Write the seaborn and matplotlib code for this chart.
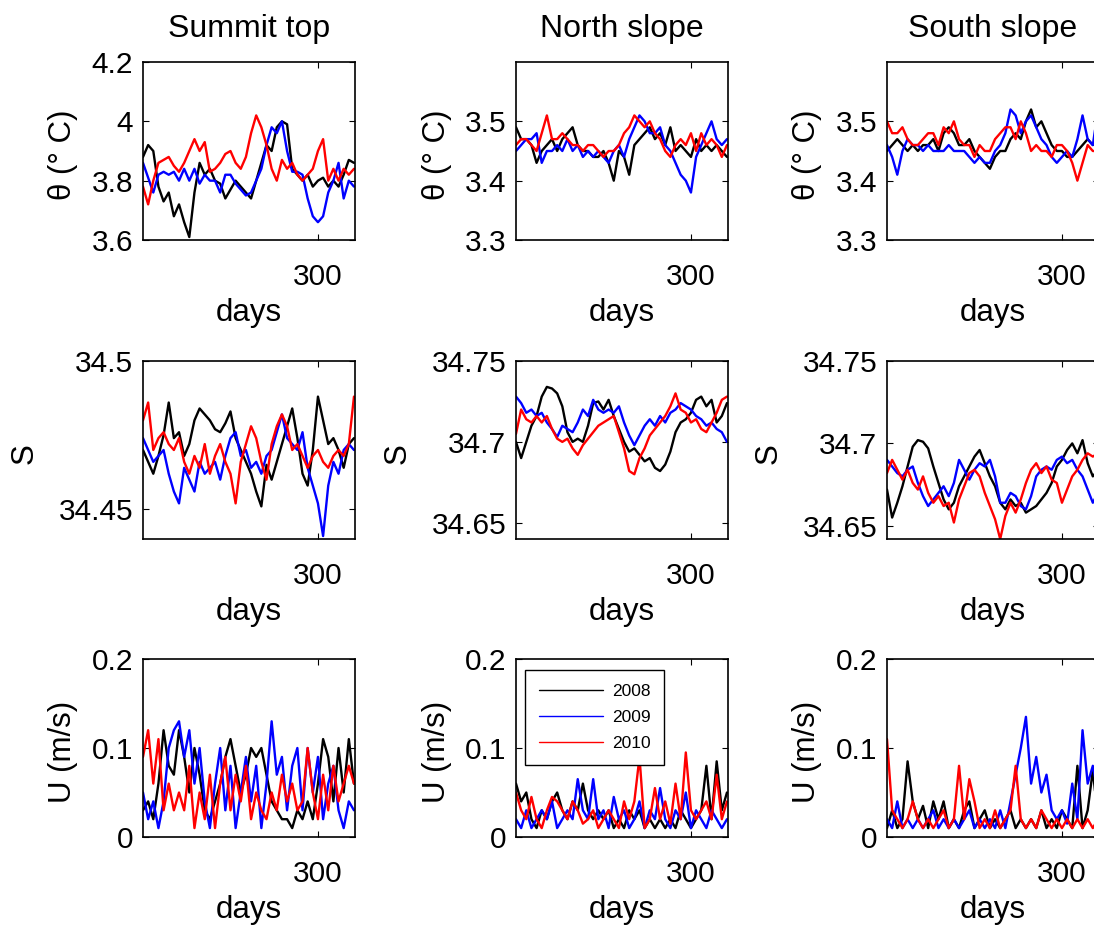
import numpy as np
import pandas as pd
import matplotlib
matplotlib.use("Agg")
import matplotlib.pyplot as plt
import seaborn as sns

# ---------------- data ----------------
days = np.arange(215.0, 318.0, 2.5)  # sampling days (42 samples)
years = ["2008", "2009", "2010"]
year_colors = {"2008": "#000000", "2009": "#0000FF", "2010": "#FF0000"}
col_titles = ["Summit top", "North slope", "South slope"]

# Potential temperature (deg C)
th_sum_08 = [3.88,3.92,3.90,3.78,3.73,3.76,3.68,3.72,3.66,3.61,3.76,3.86,3.82,3.84,3.80,3.79,3.74,3.77,3.80,3.78,3.76,
             3.74,3.80,3.86,3.92,3.90,3.98,4.00,3.99,3.84,3.82,3.80,3.82,3.78,3.80,3.81,3.78,3.80,3.78,3.82,3.87,3.86]
th_sum_09 = [3.86,3.81,3.76,3.82,3.83,3.82,3.83,3.80,3.84,3.80,3.84,3.79,3.82,3.80,3.80,3.76,3.82,3.82,3.79,3.77,3.75,
             3.76,3.80,3.84,3.92,3.98,3.96,4.00,3.90,3.83,3.83,3.82,3.74,3.68,3.66,3.68,3.76,3.80,3.86,3.74,3.80,3.78]
th_sum_10 = [3.78,3.72,3.80,3.86,3.87,3.88,3.85,3.83,3.86,3.90,3.94,3.90,3.93,3.83,3.84,3.86,3.89,3.90,3.86,3.84,3.88,
             3.96,4.02,3.98,3.92,3.84,3.80,3.87,3.84,3.86,3.82,3.80,3.82,3.84,3.90,3.94,3.80,3.84,3.80,3.84,3.82,3.84]
th_nor_08 = [3.49,3.47,3.47,3.46,3.43,3.45,3.46,3.47,3.45,3.47,3.48,3.49,3.46,3.45,3.45,3.44,3.44,3.45,3.43,3.40,3.45,
             3.44,3.41,3.46,3.47,3.48,3.49,3.47,3.48,3.46,3.49,3.45,3.46,3.45,3.44,3.47,3.45,3.46,3.45,3.46,3.45,3.44]
th_nor_09 = [3.45,3.46,3.47,3.47,3.48,3.43,3.45,3.45,3.46,3.45,3.47,3.45,3.46,3.44,3.45,3.44,3.45,3.44,3.43,3.45,3.46,
             3.44,3.47,3.49,3.51,3.50,3.48,3.48,3.49,3.46,3.45,3.43,3.41,3.40,3.38,3.44,3.46,3.48,3.50,3.47,3.46,3.47]
th_nor_10 = [3.46,3.47,3.47,3.46,3.45,3.48,3.51,3.47,3.47,3.48,3.47,3.46,3.46,3.45,3.46,3.46,3.45,3.44,3.45,3.45,3.46,
             3.48,3.49,3.51,3.50,3.49,3.50,3.48,3.47,3.45,3.44,3.46,3.47,3.46,3.48,3.45,3.48,3.46,3.47,3.46,3.44,3.46]
th_sou_08 = [3.45,3.46,3.47,3.46,3.45,3.46,3.45,3.46,3.46,3.47,3.45,3.48,3.49,3.48,3.46,3.46,3.47,3.45,3.44,3.43,3.42,
             3.44,3.45,3.45,3.47,3.48,3.47,3.50,3.52,3.49,3.50,3.48,3.46,3.45,3.45,3.44,3.44,3.45,3.46,3.47,3.46,3.47]
th_sou_09 = [3.46,3.44,3.41,3.45,3.47,3.46,3.46,3.45,3.46,3.45,3.45,3.45,3.46,3.45,3.45,3.45,3.44,3.43,3.44,3.43,3.43,
             3.45,3.46,3.48,3.52,3.51,3.48,3.50,3.51,3.49,3.47,3.46,3.44,3.43,3.44,3.45,3.44,3.47,3.51,3.47,3.46,3.52]
th_sou_10 = [3.50,3.48,3.48,3.49,3.47,3.46,3.46,3.47,3.48,3.48,3.46,3.49,3.48,3.50,3.47,3.46,3.46,3.44,3.46,3.45,3.45,
             3.47,3.48,3.49,3.49,3.47,3.50,3.48,3.45,3.46,3.45,3.45,3.44,3.46,3.46,3.45,3.43,3.40,3.43,3.46,3.45,3.45]

# Salinity
s_sum_08 = [34.470,34.466,34.462,34.468,34.475,34.486,34.474,34.476,34.468,34.472,34.480,34.484,34.482,34.480,34.477,
            34.476,34.479,34.483,34.474,34.470,34.466,34.462,34.456,34.451,34.465,34.460,34.466,34.472,34.478,34.484,
            34.474,34.462,34.458,34.470,34.488,34.480,34.472,34.474,34.470,34.464,34.472,34.474]
s_sum_09 = [34.474,34.470,34.466,34.468,34.470,34.462,34.456,34.452,34.464,34.460,34.456,34.466,34.462,34.464,34.466,
            34.460,34.468,34.474,34.476,34.468,34.470,34.464,34.466,34.462,34.468,34.470,34.476,34.482,34.474,34.472,
            34.470,34.476,34.464,34.458,34.452,34.441,34.458,34.466,34.462,34.470,34.472,34.470]
s_sum_10 = [34.480,34.486,34.470,34.474,34.476,34.472,34.470,34.474,34.466,34.462,34.468,34.464,34.472,34.462,34.468,
            34.472,34.466,34.462,34.452,34.466,34.472,34.478,34.474,34.466,34.460,34.472,34.478,34.482,34.478,34.470,
            34.472,34.468,34.464,34.468,34.470,34.466,34.464,34.468,34.470,34.468,34.472,34.488]
s_nor_08 = [34.700,34.690,34.700,34.710,34.716,34.728,34.734,34.733,34.730,34.722,34.706,34.700,34.702,34.700,34.710,
            34.724,34.725,34.720,34.726,34.716,34.708,34.700,34.694,34.696,34.692,34.688,34.690,34.684,34.682,34.686,
            34.694,34.706,34.712,34.714,34.718,34.726,34.728,34.722,34.726,34.712,34.716,34.724]
s_nor_09 = [34.728,34.724,34.718,34.720,34.716,34.718,34.712,34.708,34.703,34.710,34.708,34.706,34.712,34.720,34.716,
            34.726,34.720,34.718,34.720,34.718,34.722,34.712,34.704,34.698,34.704,34.710,34.714,34.710,34.716,34.712,
            34.718,34.720,34.724,34.722,34.720,34.716,34.714,34.710,34.712,34.708,34.706,34.700]
s_nor_10 = [34.705,34.720,34.714,34.712,34.716,34.712,34.716,34.708,34.702,34.700,34.702,34.696,34.692,34.698,34.702,
            34.706,34.710,34.712,34.714,34.716,34.706,34.696,34.682,34.680,34.690,34.696,34.704,34.708,34.712,34.716,
            34.722,34.730,34.720,34.718,34.712,34.714,34.708,34.706,34.712,34.718,34.726,34.728]
s_sou_08 = [34.672,34.655,34.664,34.674,34.686,34.698,34.702,34.701,34.697,34.686,34.676,34.666,34.660,34.664,34.674,
            34.680,34.686,34.692,34.696,34.688,34.680,34.674,34.664,34.660,34.666,34.662,34.664,34.658,34.660,34.662,
            34.666,34.670,34.676,34.686,34.690,34.696,34.700,34.694,34.702,34.688,34.680,34.684]
s_sou_09 = [34.690,34.686,34.682,34.680,34.684,34.686,34.676,34.668,34.662,34.666,34.670,34.674,34.668,34.676,34.690,
            34.684,34.678,34.684,34.688,34.686,34.690,34.680,34.664,34.664,34.670,34.668,34.662,34.660,34.668,34.680,
            34.684,34.686,34.684,34.690,34.692,34.688,34.690,34.684,34.680,34.672,34.664,34.670]
s_sou_10 = [34.682,34.690,34.684,34.678,34.684,34.676,34.672,34.680,34.670,34.664,34.668,34.662,34.664,34.652,34.666,
            34.674,34.682,34.684,34.680,34.670,34.662,34.654,34.642,34.656,34.664,34.658,34.666,34.676,34.684,34.688,
            34.682,34.686,34.678,34.676,34.664,34.672,34.680,34.684,34.690,34.694,34.692,34.694]

# Current speed (m/s)
u_sum_08 = [0.03,0.04,0.02,0.06,0.12,0.08,0.07,0.12,0.09,0.05,0.10,0.07,0.03,0.02,0.04,0.06,0.09,0.11,0.08,0.05,0.07,
            0.10,0.09,0.10,0.07,0.04,0.03,0.02,0.02,0.01,0.03,0.02,0.04,0.02,0.06,0.11,0.09,0.04,0.10,0.05,0.11,0.06]
u_sum_09 = [0.05,0.02,0.04,0.01,0.04,0.10,0.12,0.13,0.09,0.12,0.06,0.10,0.04,0.01,0.06,0.10,0.03,0.08,0.01,0.05,0.09,
            0.04,0.08,0.01,0.06,0.13,0.07,0.09,0.03,0.08,0.10,0.03,0.10,0.05,0.09,0.02,0.06,0.08,0.03,0.01,0.04,0.03]
u_sum_10 = [0.09,0.12,0.06,0.11,0.03,0.06,0.03,0.05,0.03,0.08,0.01,0.05,0.02,0.07,0.01,0.06,0.09,0.03,0.07,0.04,0.08,
            0.02,0.05,0.03,0.02,0.05,0.03,0.07,0.04,0.06,0.03,0.04,0.10,0.05,0.02,0.07,0.03,0.08,0.04,0.06,0.08,0.06]
u_nor_08 = [0.06,0.04,0.05,0.02,0.01,0.03,0.02,0.04,0.05,0.03,0.02,0.04,0.03,0.06,0.03,0.02,0.03,0.02,0.03,0.01,0.02,
            0.01,0.03,0.02,0.03,0.01,0.02,0.01,0.02,0.01,0.02,0.01,0.03,0.02,0.01,0.02,0.03,0.08,0.02,0.085,0.03,0.05]
u_nor_09 = [0.02,0.01,0.03,0.01,0.02,0.03,0.02,0.04,0.01,0.02,0.03,0.02,0.065,0.03,0.02,0.065,0.02,0.03,0.01,0.045,0.02,
            0.03,0.01,0.02,0.04,0.01,0.03,0.02,0.055,0.02,0.01,0.03,0.02,0.05,0.01,0.03,0.02,0.01,0.03,0.02,0.01,0.02]
u_nor_10 = [0.05,0.03,0.02,0.045,0.02,0.01,0.03,0.045,0.04,0.03,0.02,0.04,0.03,0.015,0.02,0.03,0.01,0.02,0.03,0.02,0.01,
            0.04,0.02,0.04,0.09,0.01,0.02,0.055,0.02,0.04,0.015,0.06,0.02,0.095,0.03,0.02,0.03,0.04,0.02,0.07,0.02,0.04]
u_sou_08 = [0.01,0.03,0.01,0.02,0.085,0.04,0.02,0.035,0.01,0.04,0.02,0.04,0.01,0.02,0.01,0.03,0.04,0.01,0.02,0.03,0.01,
            0.02,0.01,0.02,0.03,0.01,0.02,0.01,0.02,0.01,0.03,0.01,0.02,0.01,0.03,0.02,0.01,0.08,0.01,0.03,0.075,0.02]
u_sou_09 = [0.02,0.01,0.04,0.01,0.02,0.01,0.02,0.01,0.02,0.03,0.01,0.02,0.01,0.02,0.01,0.02,0.03,0.01,0.02,0.01,0.02,
            0.01,0.03,0.01,0.04,0.07,0.10,0.135,0.06,0.09,0.05,0.07,0.03,0.02,0.03,0.015,0.06,0.02,0.12,0.06,0.08,0.05]
u_sou_10 = [0.11,0.03,0.02,0.01,0.02,0.04,0.02,0.01,0.02,0.01,0.02,0.03,0.01,0.02,0.08,0.02,0.065,0.04,0.01,0.02,0.01,
            0.03,0.01,0.02,0.03,0.08,0.02,0.01,0.02,0.01,0.03,0.02,0.01,0.02,0.01,0.02,0.01,0.02,0.01,0.02,0.01,0.02]

# axis settings (tick values & labels)
x_ticks = [300]
x_ticklabels = ["300"]
th_sum_ticks = [3.6, 3.8, 4.0, 4.2]
th_sum_ticklabels = ["3.6", "3.8", "4", "4.2"]
th_slope_ticks = [3.3, 3.4, 3.5]
th_slope_ticklabels = ["3.3", "3.4", "3.5"]
s_sum_ticks = [34.45, 34.5]
s_sum_ticklabels = ["34.45", "34.5"]
s_slope_ticks = [34.65, 34.7, 34.75]
s_slope_ticklabels = ["34.65", "34.7", "34.75"]
u_ticks = [0, 0.1, 0.2]
u_ticklabels = ["0", "0.1", "0.2"]

# ---------------- style ----------------
sns.set_style("white")
plt.rcParams["font.family"] = ["Liberation Sans", "DejaVu Sans"]
plt.rcParams["axes.edgecolor"] = "black"
plt.rcParams["text.color"] = "black"
plt.rcParams["axes.labelcolor"] = "black"
plt.rcParams["xtick.color"] = "black"
plt.rcParams["ytick.color"] = "black"

W, H = 1094, 925
fig = plt.figure(figsize=(W / 100, H / 100), dpi=100)

col_left = [143, 516, 887]
row_top = [62, 361, 659]
ax_w, ax_h = 212, 178

panels = [
    # row 0: theta
    [dict(series=[th_sum_08, th_sum_09, th_sum_10], ylim=(3.6, 4.2), ticks=th_sum_ticks, tl=th_sum_ticklabels),
     dict(series=[th_nor_08, th_nor_09, th_nor_10], ylim=(3.3, 3.6), ticks=th_slope_ticks, tl=th_slope_ticklabels),
     dict(series=[th_sou_08, th_sou_09, th_sou_10], ylim=(3.3, 3.6), ticks=th_slope_ticks, tl=th_slope_ticklabels)],
    # row 1: salinity
    [dict(series=[s_sum_08, s_sum_09, s_sum_10], ylim=(34.44, 34.5), ticks=s_sum_ticks, tl=s_sum_ticklabels),
     dict(series=[s_nor_08, s_nor_09, s_nor_10], ylim=(34.64, 34.75), ticks=s_slope_ticks, tl=s_slope_ticklabels),
     dict(series=[s_sou_08, s_sou_09, s_sou_10], ylim=(34.642, 34.75), ticks=s_slope_ticks, tl=s_slope_ticklabels)],
    # row 2: speed
    [dict(series=[u_sum_08, u_sum_09, u_sum_10], ylim=(0, 0.2), ticks=u_ticks, tl=u_ticklabels),
     dict(series=[u_nor_08, u_nor_09, u_nor_10], ylim=(0, 0.2), ticks=u_ticks, tl=u_ticklabels),
     dict(series=[u_sou_08, u_sou_09, u_sou_10], ylim=(0, 0.2), ticks=u_ticks, tl=u_ticklabels)],
]
row_ylabels = ["θ (° C)", "S", "U (m/s)"]
ylabel_x = [-0.375, -0.56, -0.375]

TICK_FS = 21.5
LABEL_FS = 22.5

for r in range(3):
    for c in range(3):
        p = panels[r][c]
        left = col_left[c] / W
        bottom = 1 - (row_top[r] + ax_h) / H
        ax = fig.add_axes([left, bottom, ax_w / W, ax_h / H])
        frames = []
        for yr, vals in zip(years, p["series"]):
            n = min(len(days), len(vals))
            frames.append(pd.DataFrame({"day": days[:n], "value": vals[:n], "year": yr}))
        df = pd.concat(frames, ignore_index=True)
        sns.lineplot(data=df, x="day", y="value", hue="year", hue_order=years,
                     palette=year_colors, estimator=None, linewidth=1.7, legend=False, ax=ax)
        ax.set_xlim(215, 318)
        ax.set_ylim(*p["ylim"])
        ax.set_xticks(x_ticks)
        ax.set_xticklabels(x_ticklabels)
        ax.set_yticks(p["ticks"])
        ax.set_yticklabels(p["tl"])
        ax.tick_params(axis="both", direction="in", length=4, width=0.8, colors="black",
                       labelsize=TICK_FS, top=True, right=True, bottom=True, left=True)
        ax.tick_params(axis="x", pad=16.5)
        ax.tick_params(axis="y", pad=7)
        for sp in ax.spines.values():
            sp.set_visible(True)
            sp.set_color("black")
            sp.set_linewidth(1.2)
        ax.set_xlabel("days", fontsize=LABEL_FS, labelpad=5)
        ax.set_ylabel(row_ylabels[r], fontsize=LABEL_FS, va="center")
        ax.yaxis.set_label_coords(ylabel_x[r], 0.48)
        if r == 0:
            ax.set_title(col_titles[c], fontsize=23, pad=18)
        if r == 2 and c == 1:
            handles = ax.get_lines()[:3]
            leg = ax.legend(handles=handles, labels=years, loc="upper left",
                            bbox_to_anchor=(525 / W, 1 - 670 / H), bbox_transform=fig.transFigure,
                            borderaxespad=0, fontsize=12.5, frameon=True, fancybox=False,
                            edgecolor="black", framealpha=1, handlelength=3.7,
                            handletextpad=0.5, labelspacing=0.62, borderpad=0.8)
            leg.get_frame().set_linewidth(1.0)
            for lh in leg.get_lines():
                lh.set_linewidth(1.0)

fig.savefig("out.png", dpi=100)
